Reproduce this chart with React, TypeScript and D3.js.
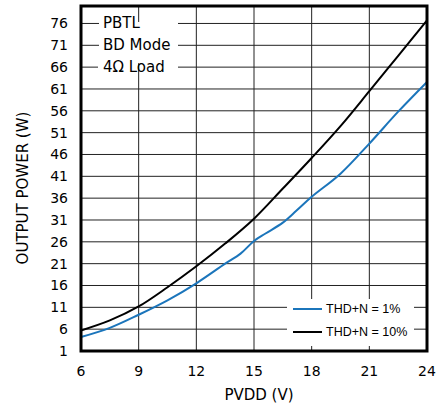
import React from "react";
import * as d3 from "d3";

// PVDD (V) vs output power (W)
const xTicks = [6, 9, 12, 15, 18, 21, 24];
const yTicks = [1, 6, 11, 16, 21, 26, 31, 36, 41, 46, 51, 56, 61, 66, 71, 76];

const thd10X = [6, 7.5, 9, 10.5, 12, 13.5, 15, 16.5, 18, 19.5, 21, 22.5, 24];
const thd10Y = [5.7, 8.0, 11.2, 15.6, 20.4, 25.6, 31.3, 38.2, 45.2, 52.5, 60.5, 68.6, 76.7];

const thd1X = [6, 7.5, 9, 10.5, 12, 13.5, 14.3, 15, 15.6, 16.5, 17.2, 18, 19.5, 21, 22.5, 24];
const thd1Y = [4.2, 6.3, 9.3, 12.6, 16.5, 21.0, 23.3, 26.2, 27.9, 30.4, 33.1, 36.3, 41.6, 48.5, 55.8, 62.6];

const notes = ["PBTL", "BD Mode", "4Ω Load"];
const legendLabels = ["THD+N = 1%", "THD+N = 10%"];

const App = () => {
    const left = 81, right = 427, top = 6, bottom = 351;

    const x = d3.scaleLinear().domain([6, 24]).range([left, right]);
    const y = d3.scaleLinear().domain([1, 80]).range([bottom, top]);

    const line = d3.line<[number, number]>()
        .x((d) => x(d[0]))
        .y((d) => y(d[1]))
        .curve(d3.curveCatmullRom.alpha(0.5));

    const blue = line(thd1X.map((v, i) => [v, thd1Y[i]] as [number, number]));
    const black = line(thd10X.map((v, i) => [v, thd10Y[i]] as [number, number]));

    const font = "'DejaVu Sans', sans-serif";

    return (
        <svg width={440} height={410} style={{ position: "absolute", left: 0, top: 0 }}>
            <rect width={440} height={410} fill="#fff" />

            {/* horizontal grid */}
            {yTicks.map((t) => (
                <line key={"h" + t} x1={left} x2={right} y1={y(t)} y2={y(t)} stroke="#222" strokeWidth={1} />
            ))}
            {/* white behind the third note line */}
            <rect x={98} y={y(66) - 3} width={80} height={6} fill="#fff" />
            {/* vertical grid */}
            {xTicks.map((t) => (
                <line key={"v" + t} x1={x(t)} x2={x(t)} y1={top} y2={bottom} stroke="#222" strokeWidth={1} />
            ))}
            <rect x={99} y={y(76) - 1.5} width={79} height={y(66) - y(76) - 2.5} fill="#fff" />

            {/* notes */}
            {notes.map((n, i) => (
                <text key={n} x={103} y={y(76 - i * 5)} dominantBaseline="central"
                    fontFamily={font} fontSize={15} fill="#000">{n}</text>
            ))}

            {/* legend */}
            <rect x={287} y={299} width={127} height={47} fill="#fff" />
            {legendLabels.map((l, i) => (
                <g key={l}>
                    <line x1={293} x2={322} y1={309 + i * 23} y2={309 + i * 23}
                        stroke={i === 0 ? "#1b75bb" : "#000"} strokeWidth={2} />
                    <text x={326} y={309 + i * 23} dominantBaseline="central"
                        fontFamily="'Liberation Sans', Arial, sans-serif" fontSize={12.5} fill="#000">{l}</text>
                </g>
            ))}

            {/* curves */}
            <path d={black ?? ""} fill="none" stroke="#000" strokeWidth={2} />
            <path d={blue ?? ""} fill="none" stroke="#1b75bb" strokeWidth={2} />

            {/* frame */}
            <rect x={left} y={top} width={right - left} height={bottom - top} fill="none" stroke="#000" strokeWidth={3} />

            {/* tick labels */}
            {yTicks.map((t) => (
                <text key={"yl" + t} x={68} y={y(t)} textAnchor="end" dominantBaseline="central"
                    fontFamily={font} fontSize={14} fill="#000">{t}</text>
            ))}
            {xTicks.map((t) => (
                <text key={"xl" + t} x={x(t)} y={371} textAnchor="middle" dominantBaseline="central"
                    fontFamily={font} fontSize={14} fill="#000">{t}</text>
            ))}

            {/* axis titles */}
            <text x={259} y={395} textAnchor="middle" dominantBaseline="central"
                fontFamily={font} fontSize={15} fill="#000">PVDD (V)</text>
            <text transform={`translate(23,188) rotate(-90)`} textAnchor="middle" dominantBaseline="central"
                fontFamily={font} fontSize={15} fill="#000">OUTPUT POWER (W)</text>
        </svg>
    );
};

export default App;
